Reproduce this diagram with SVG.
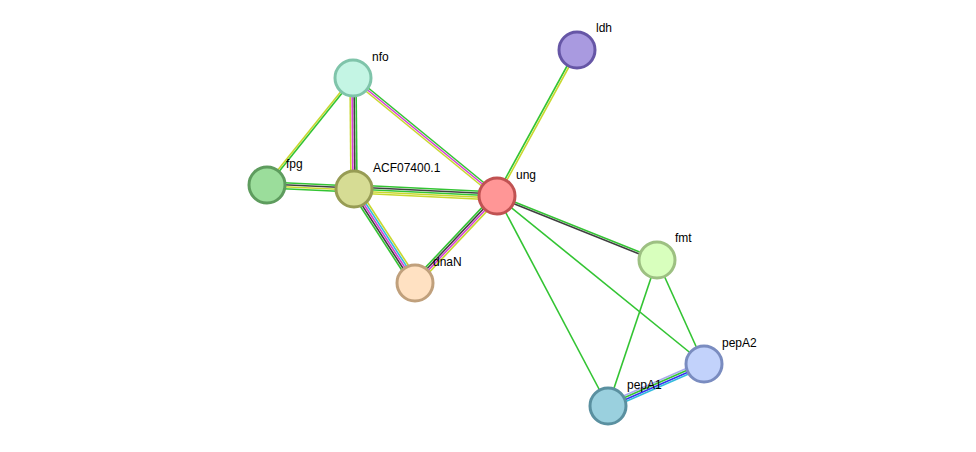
<svg xmlns="http://www.w3.org/2000/svg" width="976" height="452" viewBox="0 0 976 452">
<style>
line{stroke-width:1.6;fill:none}
.g{stroke:#33c433}.y{stroke:#c8d82e}.m{stroke:#d63fd6}.d{stroke:#404040}.b{stroke:#3333ee}.c{stroke:#33bbdd}.l{stroke:#aaaaee}
circle{stroke-width:3}
text{font-family:"Liberation Sans",Arial,sans-serif;font-size:12px;fill:#000}
</style>
<rect width="976" height="452" fill="#fff"/>
<g id="connectors">
<line class="y" x1="352.2" y1="77.4" x2="266.2" y2="184.4"/><line class="g" x1="353.8" y1="78.6" x2="267.8" y2="185.6"/>
<line class="g" x1="354.3" y1="76.5" x2="498.3" y2="194.5"/><line class="m" x1="353" y1="78" x2="497" y2="196"/><line class="y" x1="351.7" y1="79.5" x2="495.7" y2="197.5"/>
<line class="y" x1="350" y1="78" x2="351" y2="189"/><line class="m" x1="352" y1="78" x2="353" y2="189"/><line class="d" x1="354" y1="78" x2="355" y2="189"/><line class="g" x1="356" y1="78" x2="357" y2="189"/>
<line class="g" x1="267" y1="182" x2="354" y2="186"/><line class="d" x1="267" y1="184" x2="354" y2="188"/><line class="y" x1="267" y1="186" x2="354" y2="190"/><line class="g" x1="267" y1="188" x2="354" y2="192"/>
<line class="g" x1="354" y1="185" x2="497" y2="192"/><line class="d" x1="354" y1="187" x2="497" y2="194"/><line class="g" x1="354" y1="189" x2="497" y2="196"/><line class="y" x1="354" y1="191" x2="497" y2="198"/><line class="y" x1="354" y1="193" x2="497" y2="200"/>
<line class="g" x1="350.6" y1="191.2" x2="411.6" y2="285.2"/><line class="d" x1="352.3" y1="190.1" x2="413.3" y2="284.1"/><line class="m" x1="354" y1="189" x2="415" y2="283"/><line class="c" x1="355.7" y1="187.9" x2="416.7" y2="281.9"/><line class="y" x1="357.4" y1="186.8" x2="418.4" y2="280.8"/>
<line class="g" x1="494.8" y1="193.9" x2="412.8" y2="280.9"/><line class="d" x1="496.3" y1="195.3" x2="414.3" y2="282.3"/><line class="m" x1="497.7" y1="196.7" x2="415.7" y2="283.7"/><line class="y" x1="499.2" y1="198.1" x2="417.2" y2="285.1"/>
<line class="g" x1="496.1" y1="195.5" x2="576.1" y2="49.5"/><line class="y" x1="497.9" y1="196.5" x2="577.9" y2="50.5"/>
<line class="g" x1="497.4" y1="195.1" x2="657.4" y2="259.1"/><line class="d" x1="496.6" y1="196.9" x2="656.6" y2="260.9"/>
<line class="g" x1="497" y1="196" x2="608" y2="406"/>
<line class="g" x1="497" y1="196" x2="704" y2="364"/>
<line class="g" x1="657" y1="260" x2="608" y2="406"/>
<line class="g" x1="657" y1="260" x2="704" y2="364"/>
<line class="l" x1="606.8" y1="403.2" x2="702.8" y2="361.2"/><line class="g" x1="607.6" y1="405.1" x2="703.6" y2="363.1"/><line class="b" x1="608.4" y1="406.9" x2="704.4" y2="364.9"/><line class="c" x1="609.2" y1="408.8" x2="705.2" y2="366.8"/>
</g>
<g id="nfo"><circle cx="353" cy="78" r="18" fill="#c4f5e4" stroke="#7fc4aa"/><text x="372" y="61">nfo</text></g>
<g id="ldh"><circle cx="577" cy="50" r="18" fill="#a99ae0" stroke="#6656a6"/><text x="596" y="32">ldh</text></g>
<g id="fpg"><circle cx="267" cy="185" r="18" fill="#9bdd9b" stroke="#5e9c5e"/><text x="286" y="168">fpg</text></g>
<g id="ACF07400.1"><circle cx="354" cy="189" r="18" fill="#d6dc94" stroke="#979c54"/><text x="373" y="172">ACF07400.1</text></g>
<g id="ung"><circle cx="497" cy="196" r="18" fill="#ff9696" stroke="#c05252"/><text x="516" y="179">ung</text></g>
<g id="fmt"><circle cx="657" cy="260" r="18" fill="#d8ffbd" stroke="#9dc082"/><text x="675" y="242">fmt</text></g>
<g id="dnaN"><circle cx="415" cy="283" r="18" fill="#ffe1c2" stroke="#c0a07c"/><text x="433" y="266">dnaN</text></g>
<g id="pepA2"><circle cx="704" cy="364" r="18" fill="#c2d2fb" stroke="#7a8cc0"/><text x="722" y="347">pepA2</text></g>
<g id="pepA1"><circle cx="608" cy="406" r="18" fill="#9ad0de" stroke="#5a90a0"/><text x="627" y="389">pepA1</text></g>
</svg>
